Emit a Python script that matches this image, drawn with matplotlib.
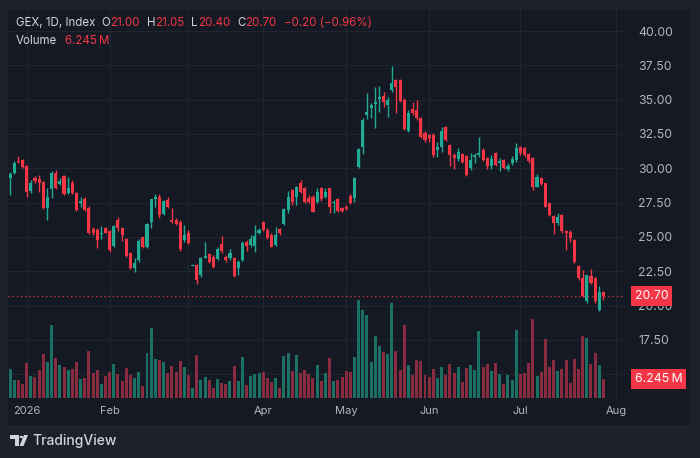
import matplotlib
matplotlib.use("Agg")
import matplotlib.pyplot as plt
import matplotlib.transforms as mtransforms
from matplotlib.patches import Rectangle, Polygon, Circle
import numpy as np

plt.rcParams['font.family'] = ['Inter', 'DejaVu Sans']

# daily OHLC, GEX index
opens = [29.30, 29.63, 30.55, 30.60, 30.16, 28.37, 29.31, 29.19, 29.02, 27.08,
         28.46, 29.68, 28.85, 29.43, 28.17, 28.90, 28.22, 27.50, 27.73, 27.08,
         25.60, 25.50, 25.20, 25.62, 25.45, 24.34, 26.23, 25.62, 24.82, 23.80,
         22.76, 23.32, 24.97, 24.26, 26.11, 27.80, 27.90, 26.70, 27.70, 26.20,
         26.25, 26.10, 24.78, 25.32, 22.90, 22.96, 22.23, 23.50, 23.74, 23.57,
         23.38, 24.49, 23.57, 23.45, 23.45, 22.72, 23.32, 24.66, 24.42, 24.34,
         25.32, 26.12, 25.51, 25.14, 24.42, 25.56, 25.95, 26.97, 28.42, 27.93,
         28.96, 28.54, 27.81, 27.93, 27.57, 28.54, 27.93, 28.54, 27.45, 27.76,
         27.08, 27.20, 28.00, 27.81, 30.12, 31.57, 33.88, 34.41, 34.66, 35.04,
         35.29, 34.61, 35.70, 36.45, 36.45, 34.97, 32.71, 34.32, 34.24, 33.64,
         32.54, 32.42, 32.42, 31.33, 31.57, 33.03, 31.70, 30.97, 30.65, 31.04,
         30.90, 30.00, 30.80, 30.97, 31.33, 30.73, 30.17, 31.14, 30.41, 30.60,
         29.93, 30.36, 30.60, 31.57, 31.45, 31.04, 30.73, 28.66, 29.27, 28.90,
         27.50, 26.50, 26.00, 26.60, 25.46, 25.38, 24.78, 22.88, 21.99, 20.30,
         22.18, 21.99, 19.66, 21.00]
highs = [29.70, 30.55, 30.90, 30.70, 30.24, 29.14, 29.43, 29.50, 29.10, 28.54,
         29.80, 29.87, 29.27, 29.50, 29.39, 29.14, 28.30, 27.88, 27.88, 27.25,
         25.70, 25.62, 25.80, 25.70, 25.50, 25.87, 26.47, 25.70, 24.90, 23.92,
         23.44, 24.82, 25.00, 26.04, 27.80, 28.12, 28.10, 27.70, 27.90, 27.10,
         26.40, 26.20, 25.87, 25.51, 23.00, 23.00, 23.57, 24.66, 23.80, 23.69,
         24.30, 25.07, 23.70, 24.10, 23.52, 23.32, 24.70, 24.78, 25.14, 25.87,
         25.63, 26.17, 25.63, 25.27, 25.75, 25.63, 27.09, 28.37, 28.47, 28.71,
         29.15, 28.66, 28.05, 28.05, 28.54, 28.66, 28.54, 28.59, 27.69, 27.86,
         27.20, 27.33, 28.10, 29.39, 31.45, 33.64, 35.46, 34.73, 35.94, 36.02,
         35.58, 35.21, 37.47, 36.50, 36.50, 35.09, 34.24, 34.85, 34.97, 33.76,
         32.71, 32.47, 32.54, 31.89, 33.03, 33.10, 31.80, 31.09, 31.45, 31.09,
         30.97, 31.14, 31.14, 32.30, 31.45, 30.85, 30.97, 31.21, 30.73, 30.65,
         30.41, 30.90, 31.87, 31.62, 31.53, 31.09, 30.85, 29.59, 29.34, 28.95,
         27.57, 26.60, 26.77, 26.70, 25.50, 25.50, 24.83, 22.96, 22.60, 22.23,
         22.64, 22.11, 21.43, 21.05]
lows = [28.05, 29.58, 30.35, 30.05, 27.93, 28.22, 28.90, 28.30, 27.00, 26.23,
        27.81, 28.46, 28.78, 28.05, 28.12, 28.12, 26.90, 27.20, 26.90, 25.20,
        25.14, 24.16, 24.83, 25.26, 23.92, 24.24, 25.45, 24.72, 23.56, 22.64,
        22.47, 23.20, 24.16, 24.16, 25.62, 27.20, 26.40, 26.60, 27.10, 26.00,
        25.90, 24.00, 24.66, 24.50, 22.85, 21.58, 22.11, 23.45, 23.08, 22.72,
        23.32, 23.85, 23.20, 23.32, 22.11, 22.23, 23.28, 23.98, 24.30, 23.93,
        25.20, 25.46, 24.83, 24.25, 24.35, 25.14, 25.87, 26.77, 27.33, 27.33,
        28.18, 27.45, 27.45, 26.79, 27.45, 27.62, 27.86, 26.72, 26.72, 26.84,
        26.79, 26.96, 27.37, 27.57, 30.05, 31.01, 33.59, 33.69, 32.91, 34.12,
        34.49, 33.76, 35.53, 34.00, 34.80, 32.79, 32.67, 33.88, 33.52, 32.23,
        31.89, 31.89, 30.84, 30.84, 31.21, 31.99, 30.20, 29.93, 30.55, 30.36,
        29.44, 29.88, 30.36, 30.85, 30.55, 29.93, 29.93, 30.17, 29.83, 29.93,
        29.83, 30.24, 30.48, 30.97, 30.85, 30.41, 28.42, 28.61, 28.78, 27.16,
        26.53, 25.20, 25.90, 25.30, 24.05, 24.66, 23.13, 21.87, 20.60, 20.21,
        21.57, 20.21, 19.63, 20.40]
closes = [29.60, 30.36, 30.45, 30.10, 28.30, 28.95, 29.10, 28.95, 27.08, 27.93,
          29.68, 28.60, 29.10, 28.12, 28.60, 28.17, 26.96, 27.60, 26.96, 25.26,
          25.26, 24.77, 25.30, 25.30, 24.04, 25.80, 25.62, 25.14, 23.61, 22.71,
          23.12, 24.72, 24.24, 25.94, 27.73, 27.90, 26.60, 27.60, 27.20, 26.10,
          25.95, 24.10, 25.14, 24.54, 22.95, 21.87, 23.45, 23.60, 23.20, 22.84,
          24.10, 24.00, 23.33, 23.80, 22.16, 23.20, 24.58, 24.34, 24.83, 25.07,
          25.50, 25.51, 24.90, 24.30, 25.14, 25.27, 27.00, 27.93, 27.57, 28.67,
          28.30, 27.57, 27.57, 26.84, 28.30, 27.76, 28.30, 27.20, 27.57, 26.89,
          26.89, 27.03, 27.45, 29.31, 31.40, 33.52, 34.07, 34.60, 34.80, 35.20,
          34.85, 34.97, 36.19, 35.90, 34.90, 32.86, 34.00, 34.00, 33.64, 32.30,
          32.06, 32.18, 30.97, 31.57, 32.71, 32.06, 30.97, 30.73, 31.21, 30.48,
          29.51, 30.60, 30.97, 31.14, 30.60, 30.17, 30.65, 30.24, 30.55, 29.99,
          30.17, 30.65, 31.45, 31.09, 30.97, 30.55, 28.66, 29.34, 28.86, 27.21,
          26.60, 26.00, 26.48, 25.40, 25.30, 24.90, 23.20, 21.99, 20.70, 22.20,
          21.62, 20.30, 21.00, 20.70]
# volume in millions
volumes = [9.8, 5.9, 6.1, 4.6, 11.8, 7.3, 7.0, 9.3, 14.7, 12.0,
           24.3, 13.5, 10.9, 10.4, 9.3, 9.6, 12.0, 6.2, 6.7, 15.8,
           8.5, 9.4, 4.6, 7.3, 8.7, 11.3, 8.1, 5.6, 10.0, 7.8,
           6.7, 8.7, 4.1, 15.1, 23.4, 13.1, 12.8, 12.0, 8.4, 10.6,
           8.7, 12.4, 10.4, 7.8, 3.3, 14.3, 5.9, 6.9, 5.9, 3.4,
           6.2, 5.1, 4.6, 5.8, 10.7, 5.6, 13.7, 4.4, 7.3, 8.0,
           8.5, 8.7, 6.7, 5.2, 6.7, 3.4, 14.0, 15.1, 8.9, 14.3,
           8.4, 9.5, 8.1, 6.7, 10.9, 5.7, 8.5, 13.4, 5.7, 5.9,
           6.9, 9.1, 8.7, 13.6, 32.6, 29.3, 27.6, 12.0, 20.7, 17.4,
           15.4, 14.8, 31.6, 15.8, 9.3, 24.5, 10.9, 7.6, 12.8, 12.4,
           7.6, 7.0, 9.8, 6.7, 10.4, 7.8, 11.4, 8.5, 10.4, 5.3,
           10.0, 10.9, 9.5, 22.5, 10.4, 11.5, 8.9, 11.8, 8.0, 4.7,
           7.6, 5.9, 22.7, 8.0, 8.4, 11.8, 26.3, 7.3, 8.7, 19.8,
           10.3, 12.8, 9.1, 9.8, 12.6, 5.0, 12.9, 9.8, 20.7, 20.0,
           11.4, 15.0, 11.1, 6.245]

month_labels = ["2026", "Feb", "Apr", "May", "Jun", "Jul", "Aug"]
month_bars = [4, 24, 61, 81, 101, 123, 146]
grid_bars = [4, 24, 43, 61, 81, 101, 123, 146]
price_ticks = [15.0, 17.5, 20.0, 22.5, 25.0, 27.5, 30.0, 32.5, 35.0, 37.5, 40.0]

W, H, DPI = 700, 458, 100
OUTER = '#1e212b'
PANEL = '#151924'
GRID = '#222631'
UP = '#22ab94'
DOWN = '#f23645'
UP_VOL = '#1b6f63'
DOWN_VOL = '#8a2c40'
TXT = '#d1d4dc'
AXTXT = '#b2b5be'

fig = plt.figure(figsize=(W / DPI, H / DPI), dpi=DPI, facecolor=OUTER)

def fr(x0, y0, x1, y1):
    # pixel box -> figure fraction rect
    return [x0 / W, 1 - y1 / H, (x1 - x0) / W, (y1 - y0) / H]

r = fr(8, 10, 690, 425)
fig.patches.append(Rectangle((r[0], r[1]), r[2], r[3], transform=fig.transFigure,
                             facecolor=PANEL, edgecolor='none', zorder=-5))

rect = fr(8, 10, 625, 398)
ax_p = fig.add_axes(rect, facecolor=PANEL)
ax_v = fig.add_axes(rect, facecolor='none')

x = np.arange(len(closes))
o = np.array(opens); c = np.array(closes)
up = c >= o
cols = np.where(up, UP, DOWN)
xlim = (-0.5, 148.2)

# volume overlay
ax_v.bar(x, volumes, width=0.72, color=np.where(up, UP_VOL, DOWN_VOL), zorder=2)
ax_v.set_xlim(xlim)
ax_v.set_ylim(0, 129.6)
ax_v.set_yticks([])
ax_v.set_xticks(month_bars, month_labels)
ax_v.tick_params(axis='x', length=0, pad=6, labelsize=8, labelcolor=AXTXT)
for s in ax_v.spines.values():
    s.set_visible(False)

# candles
ax_p.vlines(x, lows, highs, colors=cols, lw=1, zorder=3)
ax_p.bar(x, np.maximum(np.abs(c - o), 0.07), bottom=np.minimum(o, c),
         width=0.74, color=cols, zorder=4)
ax_p.axhline(closes[-1], color=DOWN, lw=1, ls=(0, (1, 2)), alpha=0.85, zorder=2)
ax_p.set_xlim(xlim)
ax_p.set_ylim(13.27, 41.53)
ax_p.set_xticks(grid_bars)
ax_p.set_xticklabels([])
ax_p.yaxis.tick_right()
ax_p.set_yticks(price_ticks, [f"{t:.2f}" for t in price_ticks])
ax_p.tick_params(axis='both', length=0)
ax_p.tick_params(axis='y', pad=9.5, labelsize=8.8, labelcolor=AXTXT)
for lab in ax_p.get_yticklabels():
    lab.set_horizontalalignment('left')
ax_p.grid(True, color=GRID, lw=0.7)
ax_p.set_axisbelow(True)
for s in ax_p.spines.values():
    s.set_visible(False)

# last value tags on the scale
tp = mtransforms.blended_transform_factory(ax_p.transAxes, ax_p.transData)
ax_p.text(1.016, closes[-1], f"{closes[-1]:.2f}", transform=tp, ha='left', va='center',
          fontsize=8.8, color='white', clip_on=False, zorder=10,
          bbox=dict(boxstyle='square,pad=0.32', fc=DOWN, ec='none'))
tv = mtransforms.blended_transform_factory(ax_v.transAxes, ax_v.transData)
ax_v.text(1.016, volumes[-1], f"{volumes[-1]:.3f}\u2009M", transform=tv, ha='left',
          va='center', fontsize=8.8, color='white', clip_on=False, zorder=10,
          bbox=dict(boxstyle='square,pad=0.32', fc=DOWN, ec='none'))

# legend header
renderer = fig.canvas.get_renderer()

def chain(pieces, x0, y0, size):
    xp = x0
    for gap, s, col in pieces:
        xp += gap
        t = fig.text(xp / W, 1 - y0 / H, s, color=col, fontsize=size, ha='left', va='center')
        xp = t.get_window_extent(renderer).x1

chain([(0, "GEX, 1D, Index", TXT), (6, "O", TXT), (0, "21.00", DOWN),
       (7, "H", TXT), (0, "21.05", DOWN), (7, "L", TXT), (0, "20.40", DOWN),
       (7, "C", TXT), (0, "20.70", DOWN), (7, "\u22120.20 (\u22120.96%)", DOWN)],
      16, 23.5, 8.3)
chain([(0, "Volume", TXT), (8, "6.245\u2009M", DOWN)], 16, 40.5, 8.3)

# TradingView mark
def px(pts):
    return [(a / W, 1 - b / H) for a, b in pts]

fig.patches.append(Polygon(px([(10, 435), (19, 435), (19, 446), (15, 446), (15, 438.5), (10, 438.5)]),
                           closed=True, transform=fig.transFigure, fc=TXT, ec='none'))
fig.patches.append(Circle((21.3 / W, 1 - 437 / H), 1.8 / W, transform=fig.transFigure, fc=TXT, ec='none'))
fig.patches.append(Polygon(px([(24, 435), (28, 435), (23.5, 446), (19.5, 446)]),
                           closed=True, transform=fig.transFigure, fc=TXT, ec='none'))
fig.text(32 / W, 1 - 440.5 / H, "TradingView", color=TXT, fontsize=10, ha='left', va='center',
         fontweight='medium')

fig.savefig("out.png", dpi=DPI, facecolor=OUTER)
